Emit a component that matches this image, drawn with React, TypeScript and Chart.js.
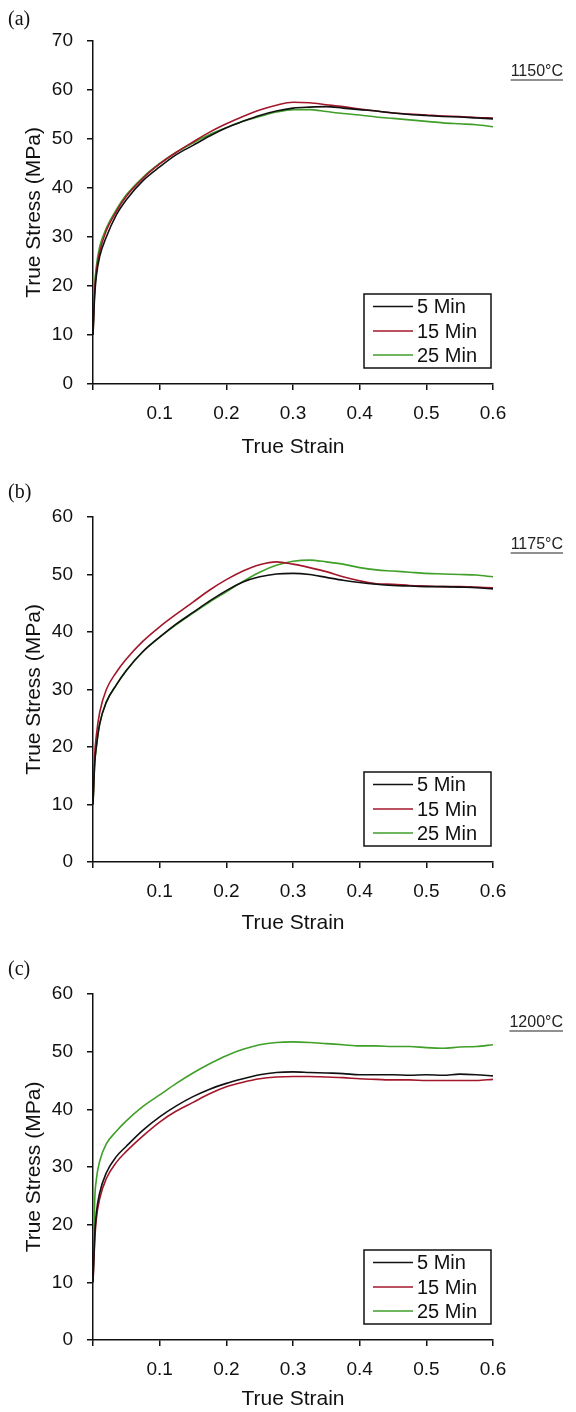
import React, { useEffect, useRef } from "react";
import { Chart, registerables } from "chart.js";

Chart.register(...registerables);

// ---------- data ----------
const strain = [0, 0.0025, 0.005, 0.01, 0.02, 0.035, 0.05, 0.075, 0.1, 0.125, 0.15, 0.175, 0.2, 0.225, 0.25, 0.275, 0.3, 0.325, 0.35, 0.375, 0.4, 0.425, 0.45, 0.475, 0.5, 0.525, 0.55, 0.575, 0.6];

// (a) 1150°C
const a5 = [10, 18, 22, 26, 30, 34.5, 37.6, 41.5, 44.3, 46.8, 48.7, 50.6, 52.3, 53.6, 54.8, 55.7, 56.3, 56.5, 56.6, 56.3, 56.0, 55.7, 55.3, 55.0, 54.8, 54.6, 54.5, 54.3, 54.1];
const a15 = [10, 19, 23, 27, 31.3, 35.2, 38.3, 42, 44.9, 47.3, 49.4, 51.4, 53.1, 54.6, 55.9, 56.9, 57.5, 57.4, 57.0, 56.6, 56.1, 55.7, 55.3, 55.1, 54.9, 54.7, 54.6, 54.4, 54.3];
const a25 = [10, 20, 24, 28, 31.8, 35.6, 38.6, 42.2, 45, 47.3, 49.2, 50.9, 52.3, 53.6, 54.6, 55.5, 56.0, 56.0, 55.6, 55.2, 54.9, 54.5, 54.2, 53.9, 53.6, 53.3, 53.1, 52.9, 52.5];

// (b) 1175°C
const b5 = [10, 17, 20, 24, 27.8, 30.8, 33.3, 36.6, 39.1, 41.4, 43.4, 45.4, 47.2, 48.7, 49.6, 50.1, 50.2, 50.0, 49.5, 49.0, 48.6, 48.3, 48.1, 48.0, 47.9, 47.9, 47.8, 47.7, 47.5];
const b15 = [10, 18.5, 22, 26, 30, 33, 35.3, 38.4, 40.9, 43.1, 45.2, 47.3, 49.1, 50.6, 51.7, 52.2, 51.8, 51.2, 50.5, 49.6, 48.9, 48.4, 48.3, 48.1, 48.0, 47.9, 47.9, 47.8, 47.7];
const b25 = [10, 17, 20, 24, 27.8, 30.8, 33.3, 36.6, 39.1, 41.3, 43.3, 45.2, 47.0, 48.8, 50.4, 51.6, 52.3, 52.5, 52.2, 51.8, 51.2, 50.8, 50.6, 50.4, 50.2, 50.1, 50.0, 49.9, 49.6];

// (c) 1200°C
const c5 = [10, 18, 22, 25.5, 29, 31.8, 33.6, 36.4, 38.7, 40.6, 42.2, 43.5, 44.5, 45.3, 46.0, 46.4, 46.5, 46.4, 46.3, 46.2, 46.0, 46.0, 46.0, 45.9, 46.0, 45.9, 46.1, 46.0, 45.8];
const c15 = [10, 17, 21, 24.5, 28, 30.8, 32.7, 35.4, 37.8, 39.7, 41.2, 42.7, 43.9, 44.7, 45.3, 45.6, 45.7, 45.7, 45.6, 45.5, 45.3, 45.2, 45.1, 45.1, 45.0, 45.0, 45.0, 45.0, 45.2];
const c25 = [10, 24, 27.8, 31, 34, 36.2, 38.0, 40.5, 42.5, 44.5, 46.3, 47.9, 49.3, 50.4, 51.2, 51.6, 51.7, 51.6, 51.4, 51.2, 51.0, 51.0, 50.9, 50.9, 50.7, 50.6, 50.8, 50.9, 51.2];

const seriesNames = ["5 Min", "15 Min", "25 Min"];
const panelSeries = [
  [a5, a15, a25],
  [b5, b15, b25],
  [c5, c15, c25],
];
const yMaxes = [70, 60, 60];
const temperatures = ["1150°C", "1175°C", "1200°C"];
const panelLetters = ["(a)", "(b)", "(c)"];
const xTitle = "True Strain";
const yTitle = "True Stress (MPa)";

// ---------- styling / layout ----------
const seriesColors = ["#111111", "#a3172b", "#3f9f28"];
const SANS = "'Liberation Sans', Arial, sans-serif";
const layouts = [
  { top: 0, height: 470, chartTop: 41, chartBottom: 384, titleY: 447, letterY: 18, tempDy: 31 },
  { top: 470, height: 470, chartTop: 47, chartBottom: 392, titleY: 453, letterY: 21, tempDy: 28 },
  { top: 940, height: 472, chartTop: 54, chartBottom: 400, titleY: 460, letterY: 28, tempDy: 29 },
];

function makeOverlay(idx: number) {
  return {
    id: "overlay" + idx,
    afterDatasetsDraw(chart: any) {
      const ctx = chart.ctx;
      const area = chart.chartArea;
      const L = layouts[idx];
      ctx.save();
      // legend box
      const bw = 127, bh = 74;
      const bx = area.right - 2 - bw;
      const by = area.bottom - 16 - bh;
      ctx.fillStyle = "#ffffff";
      ctx.fillRect(bx, by, bw, bh);
      ctx.strokeStyle = "#111";
      ctx.lineWidth = 1.5;
      ctx.strokeRect(bx, by, bw, bh);
      ctx.font = `20px ${SANS}`;
      ctx.textBaseline = "middle";
      ctx.textAlign = "left";
      const rows = [12.5, 37, 61];
      seriesNames.forEach((name, i) => {
        const y = by + rows[i];
        ctx.strokeStyle = seriesColors[i];
        ctx.lineWidth = 1.5;
        ctx.beginPath();
        ctx.moveTo(bx + 9, y);
        ctx.lineTo(bx + 49, y);
        ctx.stroke();
        ctx.fillStyle = "#111";
        ctx.fillText(name, bx + 53, y + 1);
      });
      // temperature label (underlined)
      ctx.font = `16px ${SANS}`;
      ctx.textAlign = "right";
      ctx.fillStyle = "#222";
      const tx = 563;
      const ty = area.top + L.tempDy;
      ctx.fillText(temperatures[idx], tx, ty);
      const w = ctx.measureText(temperatures[idx]).width;
      ctx.strokeStyle = "#222";
      ctx.lineWidth = 1.2;
      ctx.beginPath();
      ctx.moveTo(tx - w, ty + 8);
      ctx.lineTo(tx, ty + 8);
      ctx.stroke();
      ctx.restore();
    },
  };
}

function Panel({ idx }: { idx: number }) {
  const ref = useRef<HTMLCanvasElement>(null);
  const L = layouts[idx];
  useEffect(() => {
    if (!ref.current) return;
    const datasets = panelSeries[idx].map((vals, i) => ({
      label: seriesNames[i],
      data: strain.map((x, j) => ({ x, y: vals[j] })),
      borderColor: seriesColors[i],
      borderWidth: 1.6,
      pointRadius: 0,
      cubicInterpolationMode: "monotone" as const,
      fill: false,
    }));
    const titleFont = { family: SANS, size: 21 };
    const lh = 21 * 1.2;
    const xPadBottom = Math.max(0, L.height - L.titleY - lh / 2);
    const tickFont = { family: SANS, size: 19 };
    const chart = new Chart(ref.current, {
      type: "line",
      data: { datasets },
      options: {
        responsive: false,
        animation: false,
        events: [],
        layout: { padding: { top: L.chartTop, right: 83, bottom: 0, left: 0 } },
        plugins: { legend: { display: false }, tooltip: { enabled: false } },
        scales: {
          x: {
            type: "linear",
            min: 0,
            max: 0.6,
            ticks: {
              stepSize: 0.1,
              font: tickFont,
              color: "#111",
              padding: 12,
              maxRotation: 0,
              autoSkip: false,
              callback: (v: any) => (Math.abs(Number(v)) < 1e-9 ? "" : Number(v).toFixed(1)),
            },
            grid: { drawOnChartArea: false, drawTicks: true, tickLength: 6, color: "#111", lineWidth: 1.5 },
            border: { color: "#111", width: 1.5 },
            title: { display: true, text: xTitle, font: titleFont, color: "#111", padding: { top: 0, bottom: xPadBottom } },
            afterFit: (s: any) => {
              s.height = L.height - L.chartBottom;
            },
          },
          y: {
            type: "linear",
            min: 0,
            max: yMaxes[idx],
            ticks: { stepSize: 10, font: tickFont, color: "#111", padding: 14 },
            grid: { drawOnChartArea: false, drawTicks: true, tickLength: 6, color: "#111", lineWidth: 1.5 },
            border: { color: "#111", width: 1.5 },
            title: { display: true, text: yTitle, font: titleFont, color: "#111", padding: { top: 22, bottom: 0 } },
            afterFit: (s: any) => {
              s.width = 93;
            },
          },
        },
      },
      plugins: [makeOverlay(idx)],
    });
    return () => chart.destroy();
  }, [idx]);
  return (
    <div style={{ position: "absolute", left: 0, top: L.top, width: 576, height: L.height }}>
      <canvas ref={ref} width={576} height={L.height} style={{ display: "block" }} />
      <div
        style={{
          position: "absolute",
          left: 8,
          top: L.letterY - 11,
          fontFamily: "'Liberation Serif', 'Times New Roman', serif",
          fontSize: 20,
          lineHeight: "22px",
          color: "#111",
        }}
      >
        {panelLetters[idx]}
      </div>
    </div>
  );
}

export default function App() {
  return (
    <div style={{ position: "absolute", left: 0, top: 0, width: 576, height: 1412, background: "#fff" }}>
      {layouts.map((_, i) => (
        <Panel key={i} idx={i} />
      ))}
    </div>
  );
}
